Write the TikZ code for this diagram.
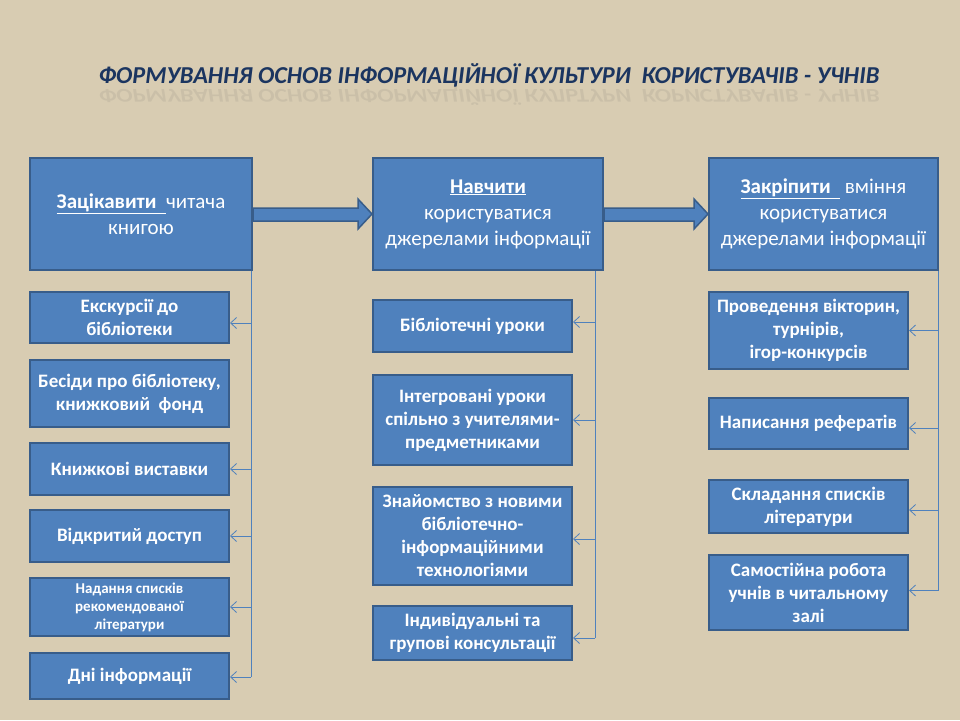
\documentclass[tikz,border=0pt]{standalone}
\usepackage{fontspec}
\setmainfont{Carlito}
\usetikzlibrary{arrows.meta,calc}
\definecolor{bg}{HTML}{D8CCB2}
\definecolor{boxfill}{HTML}{4F81BD}
\definecolor{boxline}{HTML}{385D8A}
\definecolor{titlec}{HTML}{1B3560}
\tikzset{
  bigbox/.style={draw=boxline, line width=2pt, fill=boxfill, text=white, align=center, inner sep=3pt,
    font=\fontsize{21}{26}\selectfont},
  smallbox/.style={draw=boxline, line width=2pt, fill=boxfill, text=white, align=center, inner sep=2pt,
    minimum width=199pt, font=\bfseries\fontsize{19}{23}\selectfont},
  conn/.style={draw=boxfill, line width=0.8pt},
  connarrow/.style={conn, -{Straight Barb[length=6pt,width=11pt]}},
  blockarrow/.style={fill=boxfill, draw=boxline, line width=1.5pt, line join=miter},
}
\newcommand{\ul}[1]{\underline{#1}}
\begin{document}
\begin{tikzpicture}[x=1pt,y=-1pt]
\path[fill=bg] (0,0) rectangle (960,720);
\useasboundingbox (0,0) rectangle (960,720);

% title and reflection
\node[text=titlec, font=\bfseries\itshape\fontsize{24.3}{28}\selectfont] (title) at (489,75)
  {ФОРМУВАННЯ ОСНОВ ІНФОРМАЦІЙНОЇ КУЛЬТУРИ \ КОРИСТУВАЧІВ - УЧНІВ};
\node[text=black!60, opacity=0.12, yscale=-0.8, font=\bfseries\itshape\fontsize{24.3}{28}\selectfont] (refl) at (489,96)
  {ФОРМУВАННЯ ОСНОВ ІНФОРМАЦІЙНОЇ КУЛЬТУРИ \ КОРИСТУВАЧІВ - УЧНІВ};

% top boxes
\node[bigbox, minimum width=222pt, minimum height=112pt] (A) at (141,214)
  {\textbf{\ul{Зацікавити\ \ }}читача\\книгою};
\node[bigbox, minimum width=230pt, minimum height=112pt] (B) at (488,214)
  {\textbf{\ul{Навчити}}\\користуватися\\джерелами інформації};
\node[bigbox, minimum width=229pt, minimum height=112pt] (C) at (823.5,214)
  {\textbf{\ul{Закріпити\ \ }}\ вміння\\користуватися\\джерелами інформації};

% block arrows
\draw[blockarrow] ($(A.east)+(0,-6)$) -- ($(B.west)+(-14,-6)$) -- ($(B.west)+(-14,-15)$) -- (B.west)
  -- ($(B.west)+(-14,15)$) -- ($(B.west)+(-14,7)$) -- ($(A.east)+(0,7)$) -- cycle;
\draw[blockarrow] ($(B.east)+(0,-6)$) -- ($(C.west)+(-14,-6)$) -- ($(C.west)+(-14,-15)$) -- (C.west)
  -- ($(C.west)+(-14,15)$) -- ($(C.west)+(-14,7)$) -- ($(B.east)+(0,7)$) -- cycle;

% left column
\node[smallbox, minimum height=51pt] (L1) at (129.5,317.5) {Екскурсії до\\бібліотеки};
\node[smallbox, minimum height=67pt] (L2) at (129.5,393.5) {Бесіди про бібліотеку,\\книжковий \ фонд};
\node[smallbox, minimum height=52pt] (L3) at (129.5,469) {Книжкові виставки};
\node[smallbox, minimum height=52pt] (L4) at (129.5,536) {Відкритий доступ};
\node[smallbox, minimum height=58pt, font=\bfseries\fontsize{15}{18}\selectfont] (L5) at (129.5,607)
  {Надання списків\\рекомендованої\\літератури};
\node[smallbox, minimum height=46pt] (L6) at (129.5,676) {Дні інформації};

% middle column
\node[smallbox, minimum height=52pt] (M1) at (472.5,326) {Бібліотечні уроки};
\node[smallbox, minimum height=90pt] (M2) at (472.5,420) {Інтегровані уроки\\спільно з учителями-\\предметниками};
\node[smallbox, minimum height=98pt] (M3) at (472.5,536) {Знайомство з новими\\бібліотечно-\\інформаційними\\технологіями};
\node[smallbox, minimum height=54pt] (M4) at (472.5,633) {Індивідуальні та\\групові консультації};

% right column
\node[smallbox, minimum height=77pt] (R1) at (808.5,330.5) {Проведення вікторин,\\турнірів,\\ігор-конкурсів};
\node[smallbox, minimum height=51pt] (R2) at (808.5,423.5) {Написання рефератів};
\node[smallbox, minimum height=53pt] (R3) at (808.5,506.5) {Складання списків\\літератури};
\node[smallbox, minimum height=75pt] (R4) at (808.5,592.5) {Самостійна робота\\учнів в читальному\\залі};

% trunks
\coordinate (tL) at (251,0);
\coordinate (tM) at (595,0);
\coordinate (tR) at (938,0);
\draw[conn] (A.south -| tL) -- ($(L6.east -| tL)+(0,1)$);
\draw[conn] (B.south -| tM) -- ($(M4.east -| tM)+(0,5)$);
\draw[conn] (C.south -| tR) -- ($(R4.east -| tR)+(0,-2)$);

% branch arrows
\draw[connarrow] ($(L1.east -| tL)+(0,5.5)$) -- ($(L1.east)+(0,5.5)$);
\draw[connarrow] (L3.east -| tL) -- (L3.east);
\draw[connarrow] (L4.east -| tL) -- (L4.east);
\draw[connarrow] (L5.east -| tL) -- (L5.east);
\draw[connarrow] ($(L6.east -| tL)+(0,1)$) -- ($(L6.east)+(0,1)$);

\draw[connarrow] ($(M1.east -| tM)+(0,-4)$) -- ($(M1.east)+(0,-4)$);
\draw[connarrow] (M2.east -| tM) -- (M2.east);
\draw[connarrow] ($(M3.east -| tM)+(0,3)$) -- ($(M3.east)+(0,3)$);
\draw[connarrow] ($(M4.east -| tM)+(0,5)$) -- ($(M4.east)+(0,5)$);

\draw[connarrow] (R1.east -| tR) -- (R1.east);
\draw[connarrow] ($(R2.east -| tR)+(0,4.5)$) -- ($(R2.east)+(0,4.5)$);
\draw[connarrow] ($(R3.east -| tR)+(0,3.5)$) -- ($(R3.east)+(0,3.5)$);
\draw[connarrow] ($(R4.east -| tR)+(0,-2)$) -- ($(R4.east)+(0,-2)$);
\end{tikzpicture}
\end{document}
